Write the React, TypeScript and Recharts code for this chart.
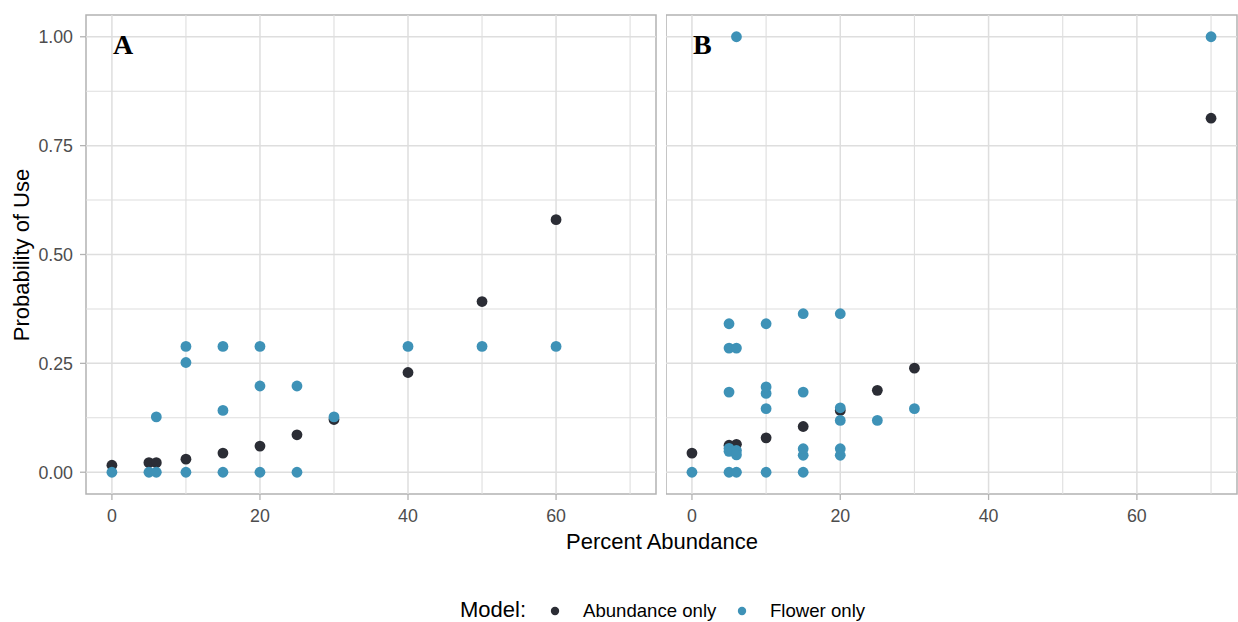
import React from 'react';
import { ScatterChart, Scatter, XAxis, YAxis, ReferenceLine, ReferenceArea } from 'recharts';

const xMajorTicks = [0, 20, 40, 60];
const xMinorTicks = [10, 30, 50, 70];
const yMajorTicks = [0, 0.25, 0.5, 0.75, 1];
const yMinorTicks = [0.125, 0.375, 0.625, 0.875];
const xDomain: [number, number] = [-3.5, 73.5];
const yDomain: [number, number] = [-0.05, 1.05];

const panelAAbundance = [
  { x: 0, y: 0.016 }, { x: 5, y: 0.022 }, { x: 6, y: 0.022 }, { x: 10, y: 0.03 },
  { x: 15, y: 0.044 }, { x: 20, y: 0.06 }, { x: 25, y: 0.086 }, { x: 30, y: 0.121 },
  { x: 40, y: 0.229 }, { x: 50, y: 0.392 }, { x: 60, y: 0.58 },
];
const panelAFlower = [
  { x: 0, y: 0 }, { x: 5, y: 0 }, { x: 6, y: 0 }, { x: 6, y: 0.127 },
  { x: 10, y: 0 }, { x: 10, y: 0.252 }, { x: 10, y: 0.289 },
  { x: 15, y: 0 }, { x: 15, y: 0.142 }, { x: 15, y: 0.289 },
  { x: 20, y: 0 }, { x: 20, y: 0.198 }, { x: 20, y: 0.289 },
  { x: 25, y: 0 }, { x: 25, y: 0.198 }, { x: 30, y: 0.127 },
  { x: 40, y: 0.289 }, { x: 50, y: 0.289 }, { x: 60, y: 0.289 },
];
const panelBAbundance = [
  { x: 0, y: 0.044 }, { x: 5, y: 0.062 }, { x: 6, y: 0.064 }, { x: 10, y: 0.079 },
  { x: 15, y: 0.105 }, { x: 20, y: 0.142 }, { x: 25, y: 0.188 }, { x: 30, y: 0.239 },
  { x: 70, y: 0.813 },
];
const panelBFlower = [
  { x: 0, y: 0 }, { x: 5, y: 0 }, { x: 6, y: 0 }, { x: 10, y: 0 }, { x: 15, y: 0 },
  { x: 5, y: 0.055 }, { x: 5, y: 0.048 }, { x: 6, y: 0.05 }, { x: 6, y: 0.04 },
  { x: 5, y: 0.184 }, { x: 5, y: 0.285 }, { x: 6, y: 0.285 }, { x: 5, y: 0.341 },
  { x: 6, y: 1.0 },
  { x: 10, y: 0.146 }, { x: 10, y: 0.181 }, { x: 10, y: 0.196 }, { x: 10, y: 0.341 },
  { x: 15, y: 0.039 }, { x: 15, y: 0.054 }, { x: 15, y: 0.184 }, { x: 15, y: 0.364 },
  { x: 20, y: 0.039 }, { x: 20, y: 0.054 }, { x: 20, y: 0.119 }, { x: 20, y: 0.148 }, { x: 20, y: 0.364 },
  { x: 25, y: 0.119 }, { x: 30, y: 0.146 }, { x: 70, y: 1.0 },
];

const seriesNames = ['Abundance only', 'Flower only'];
const panelLabels = ['A', 'B'];

const DARK = '#2B2D35';
const BLUE = '#3E92B7';
const GRID = '#DEDEDE';
const BORDER = '#B3B3B3';
const SANS = '"Liberation Sans", Arial, sans-serif';

const dot = (color: string) => (p: any) => <circle cx={p.cx} cy={p.cy} r={5.4} fill={color} />;

function Panel({ abundance, flower, showY, width, right, label }: any) {
  return (
    <ScatterChart width={width} height={560} margin={{ top: 15, right, bottom: 6, left: 0 }}>
      <XAxis
        type="number" dataKey="x" domain={xDomain} ticks={xMajorTicks} allowDataOverflow
        height={60} axisLine={false} tickSize={6} tickMargin={9}
        tickLine={{ stroke: BORDER, strokeWidth: 1.3 }}
        tick={{ fill: '#4D4D4D', fontSize: 17.8, fontFamily: SANS }}
      />
      <YAxis
        type="number" dataKey="y" domain={yDomain} ticks={yMajorTicks} allowDataOverflow
        hide={!showY} width={86} axisLine={false} tickSize={6} tickMargin={7}
        tickFormatter={(v: number) => v.toFixed(2)}
        tickLine={{ stroke: BORDER, strokeWidth: 1.3 }}
        tick={{ fill: '#4D4D4D', fontSize: 17.8, fontFamily: SANS }}
      />
      {yMinorTicks.map((v) => <ReferenceLine key={'ym' + v} y={v} stroke={GRID} strokeWidth={1.1} />)}
      {xMinorTicks.map((v) => <ReferenceLine key={'xm' + v} x={v} stroke={GRID} strokeWidth={1.1} />)}
      {yMajorTicks.map((v) => <ReferenceLine key={'y' + v} y={v} stroke={GRID} strokeWidth={1.5} />)}
      {xMajorTicks.map((v) => <ReferenceLine key={'x' + v} x={v} stroke={GRID} strokeWidth={1.5} />)}
      <ReferenceArea x1={xDomain[0]} x2={xDomain[1]} y1={yDomain[0]} y2={yDomain[1]}
        fill="none" fillOpacity={0} stroke={BORDER} strokeWidth={1.5}
        label={{ value: label, position: 'insideTopLeft', offset: 0, dx: 27, dy: 19,
          style: { fontFamily: '"Liberation Serif", "Times New Roman", serif', fontWeight: 'bold', fontSize: 28, fill: '#000' } } as any}
      />
      <Scatter name={seriesNames[0]} data={abundance} fill={DARK} shape={dot(DARK)} isAnimationActive={false} />
      <Scatter name={seriesNames[1]} data={flower} fill={BLUE} shape={dot(BLUE)} isAnimationActive={false} />
    </ScatterChart>
  );
}

export default function App() {
  return (
    <div style={{ position: 'absolute', left: 0, top: 0, width: 1238, height: 622, background: '#fff', overflow: 'hidden' }}>
      <div style={{ position: 'absolute', left: 0, top: 0 }}>
        <Panel abundance={panelAAbundance} flower={panelAFlower} showY width={660} right={4} label={panelLabels[0]} />
      </div>
      <div style={{ position: 'absolute', left: 666, top: 0 }}>
        <Panel abundance={panelBAbundance} flower={panelBFlower} showY={false} width={572} right={1} label={panelLabels[1]} />
      </div>
      <svg width={1238} height={622} style={{ position: 'absolute', left: 0, top: 0, pointerEvents: 'none' }}>
        <text x={662} y={549} textAnchor="middle" fontFamily={SANS} fontSize={22} fill="#000">Percent Abundance</text>
        <text x={28.5} y={255} textAnchor="middle" fontFamily={SANS} fontSize={22} fill="#000"
          transform="rotate(-90, 28.5, 255)">Probability of Use</text>
        <text x={460} y={616.5} fontFamily={SANS} fontSize={22} fill="#000">Model:</text>
        <circle cx={555} cy={611} r={4.2} fill={DARK} />
        <text x={583} y={616.5} fontFamily={SANS} fontSize={18.6} fill="#000">{seriesNames[0]}</text>
        <circle cx={742} cy={611} r={4.2} fill={BLUE} />
        <text x={770} y={616.5} fontFamily={SANS} fontSize={18.6} fill="#000">{seriesNames[1]}</text>
      </svg>
    </div>
  );
}
